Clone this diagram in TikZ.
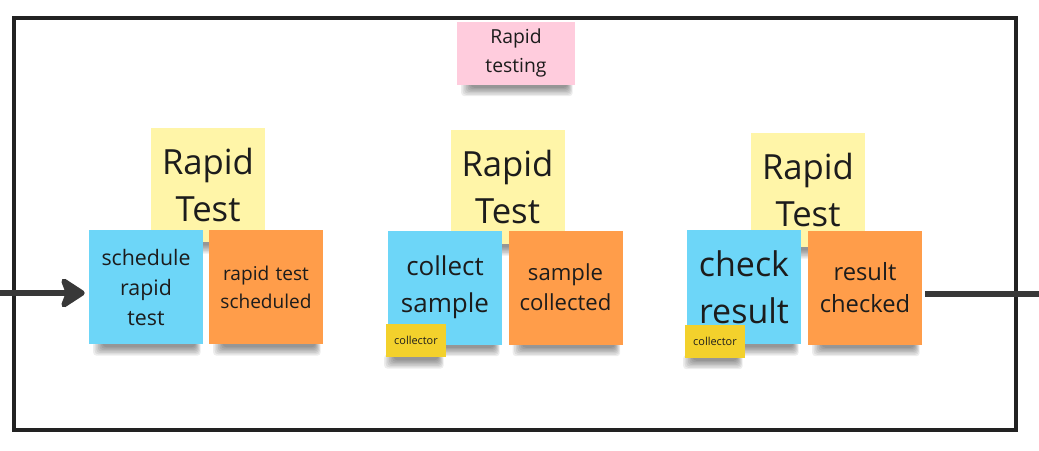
\documentclass[tikz,border=0pt]{standalone}
\usepackage{fontspec}
\setmainfont{Open Sans}
\usetikzlibrary{arrows.meta}
\definecolor{ynote}{HTML}{FFF5A8}
\definecolor{bnote}{HTML}{6DD6F8}
\definecolor{onote}{HTML}{FF9D4A}
\definecolor{pnote}{HTML}{FFCCDD}
\definecolor{cnote}{HTML}{F3D12C}
\definecolor{frame}{HTML}{222222}
\definecolor{ink}{HTML}{1C1C1C}
\pgfdeclarelayer{bg}
\pgfdeclarelayer{shadow}
\pgfsetlayers{bg,shadow,main}
\tikzset{
  note/.style 2 args={inner sep=0pt, minimum width={#1*0.75pt}, minimum height={#2*0.75pt},
     text width={(#1-8)*0.75pt}, align=center, text=ink},
  sq/.style={note={114}{114}},
  fs/.style 2 args={font=\fontsize{#1}{#2}\selectfont},
  shadowlayer/.style={black, opacity=0.07, rounded corners=2.5pt},
  flow/.style={draw=frame!90, line width=5pt},
}
\newcommand{\noteshade}[2][14]{%
  \begin{pgfonlayer}{shadow}
  \foreach \i in {0,...,6}{
    \fill[shadowlayer] ([xshift={(#1-\i*1.6)*0.75pt}, yshift=2pt]#2.south west)
      rectangle ([xshift={(-8+\i*0.9)*0.75pt}, yshift={-(3+\i*1.4)*0.75pt}]#2.south east);
  }
  \end{pgfonlayer}}
\begin{document}
\begin{tikzpicture}[x=0.75pt,y=-0.75pt]
\useasboundingbox (0,0) rectangle (1039,450);
\begin{pgfonlayer}{bg}
\fill[white] (0,0) rectangle (1039,450);
\end{pgfonlayer}
\node[draw=frame, line width=3.6pt, minimum width={1002*0.75pt}, minimum height={412*0.75pt}, inner sep=0pt] (frm) at (515,224) {};

% pink title
\node[note={118}{63}, fill=pnote, fs={14.5}{21.5}] (title) at (516,53) {Rapid\\testing};
\noteshade{title}

% group 1
\node[sq, fill=ynote, fs={26}{35}] (y1) at (208,185) {Rapid\\Test};
\node[sq, fill=bnote, fs={16}{22.5}] (b1) at (146,287) {schedule\\rapid\\test};
\node[sq, fill=onote, fs={14.3}{21}] (o1) at (266,287) {rapid test\\scheduled};
\noteshade{y1}\noteshade{b1}\noteshade{o1}

% group 2
\node[sq, fill=ynote, fs={26}{35}] (y2) at (507.5,187) {Rapid\\Test};
\node[sq, fill=bnote, fs={19.5}{27.5}] (b2) at (445,287.5) {collect\\sample};
\node[sq, fill=onote, fs={16.6}{22.5}] (o2) at (565.5,287.5) {sample\\collected};
\noteshade{y2}\noteshade{b2}\noteshade{o2}
\node[note={60}{33}, fill=cnote, fs={8.2}{9}] (c2) at (416,340.5) {collector};
\noteshade[8]{c2}

% group 3
\node[sq, fill=ynote, fs={26}{35}] (y3) at (808,190) {Rapid\\Test};
\node[sq, fill=bnote, fs={25.5}{35}] (b3) at (744,287) {check\\result};
\node[sq, fill=onote, fs={17.8}{24.5}] (o3) at (865,287.5) {result\\checked};
\noteshade{y3}\noteshade{b3}\noteshade{o3}
\node[note={60}{33}, fill=cnote, fs={8.2}{9}] (c3) at (715,341) {collector};
\noteshade[8]{c3}

% connectors
\coordinate (in) at (0,293);
\coordinate (out) at (1039,294);
\draw[flow, -{Stealth[length=21pt,width=27pt,inset=5pt,round]}, shorten >=3pt] (in) -- (in -| b1.west);
\draw[flow, shorten <=2.2pt] (o3.east |- out) -- (out);
\end{tikzpicture}
\end{document}
